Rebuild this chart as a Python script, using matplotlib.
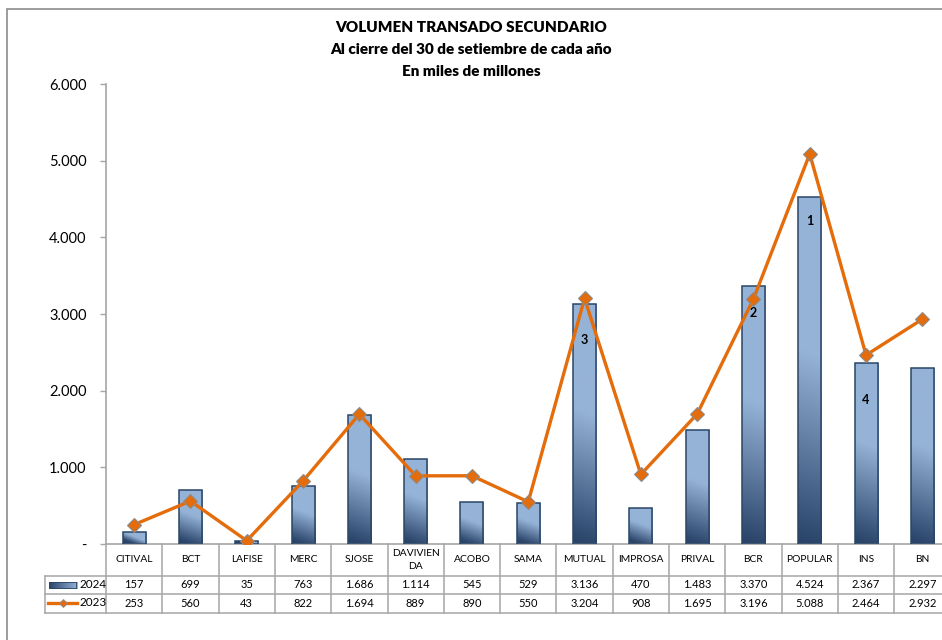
import matplotlib
matplotlib.use("Agg")
import matplotlib.pyplot as plt
import matplotlib.transforms as mtransforms
from matplotlib.patches import Rectangle
from matplotlib.lines import Line2D
from matplotlib.ticker import FuncFormatter
import numpy as np

categorias = ["CITIVAL", "BCT", "LAFISE", "MERC", "SJOSE", "DAVIVIEN\nDA", "ACOBO",
              "SAMA", "MUTUAL", "IMPROSA", "PRIVAL", "BCR", "POPULAR", "INS", "BN"]
vol_2024 = [157, 699, 35, 763, 1686, 1114, 545, 529, 3136, 470, 1483, 3370, 4524, 2367, 2297]
vol_2023 = [253, 560, 43, 822, 1694, 889, 890, 550, 3204, 908, 1695, 3196, 5088, 2464, 2932]
ranking = ["", "", "", "", "", "", "", "", "3", "", "", "2", "1", "4", ""]
rank_offset = [0, 0, 0, 0, 0, 0, 0, 0, 26, 0, 0, 20, 17, 27, 0]

plt.rcParams['font.family'] = ['Lato', 'DejaVu Sans']

W, H = 942, 640
fig = plt.figure(figsize=(W / 100, H / 100), dpi=100)

col_px = 56.3
x0_px, y0_px, top_px = 106, 544, 84
ax = fig.add_axes([x0_px / W, 1 - y0_px / H, 15 * col_px / W, (y0_px - top_px) / H])

dark = np.array([0x2a, 0x44, 0x6a]) / 255
light = np.array([0x95, 0xb3, 0xd7]) / 255
edge = "#2a4566"
grid_gray = "#a6a6a6"

xs = np.arange(len(categorias))
bw = 0.41
bars = ax.bar(xs, vol_2024, width=bw, facecolor="none", edgecolor=edge, linewidth=1.1, zorder=3)

px_per_unit = (y0_px - top_px) / 6000
for b, v in zip(bars, vol_2024):
    h_px = v * px_per_unit
    w_px = bw * col_px
    yy, xx = np.mgrid[0:1:120j, 0:1:12j]
    t = (yy * h_px + 0.35 * (xx - 0.5) * w_px) / (0.55 * h_px)
    t = np.clip(t, 0, 1)
    img = dark[None, None, :] * (1 - t[..., None]) + light[None, None, :] * t[..., None]
    im = ax.imshow(img, extent=[b.get_x(), b.get_x() + bw, 0, v], origin="lower",
                   aspect="auto", zorder=2, interpolation="bilinear")
    im.set_clip_path(b)

ax.plot(xs, vol_2023, color="#e46c0a", linewidth=2.4, marker="D", markersize=7,
        markerfacecolor="#e46c0a", markeredgecolor="#8c8c8c", markeredgewidth=0.8, zorder=4)

for x, v, r, off in zip(xs, vol_2024, ranking, rank_offset):
    if r:
        ax.annotate(r, (x, v), xytext=(0, -off), textcoords="offset points",
                    ha="center", va="center", fontsize=9, fontweight="bold", zorder=5)

ax.set_xlim(-0.5, len(categorias) - 0.5)
ax.set_ylim(0, 6000)
ax.set_yticks(np.arange(0, 6001, 1000))
ax.yaxis.set_major_formatter(FuncFormatter(
    lambda v, p: "-" if v == 0 else f"{v:,.0f}".replace(",", ".")))
ax.tick_params(axis="y", length=4, width=1, color=grid_gray, pad=10, labelsize=10.5)
ax.set_xticks([])
for s in ["top", "right"]:
    ax.spines[s].set_visible(False)
ax.spines["left"].set_color(grid_gray)
ax.spines["bottom"].set_color(grid_gray)
ax.spines["left"].set_linewidth(1.2)
ax.spines["bottom"].set_linewidth(1.2)

# data table below the axis
ah = y0_px - top_px
r1, r2, r3 = -32 / ah, -50 / ah, -69 / ah
blend = mtransforms.blended_transform_factory(ax.transData, ax.transAxes)
leg_left = (45 - x0_px) / (15 * col_px)
kw = dict(color=grid_gray, linewidth=1.1, clip_on=False)
for y in (r1, r2, r3):
    ax.plot([leg_left, 1.02], [y, y], transform=ax.transAxes, **kw)
ax.plot([leg_left, leg_left], [r1, r3], transform=ax.transAxes, **kw)
for i in range(len(categorias) + 1):
    ax.plot([i - 0.5, i - 0.5], [0, r3], transform=blend, **kw)

for x, c, a, b in zip(xs, categorias, vol_2024, vol_2023):
    ax.text(x, r1 / 2, c, transform=blend, ha="center", va="center", fontsize=7.4,
            linespacing=1.5)
    ax.text(x, (r1 + r2) / 2, f"{a:,}".replace(",", "."), transform=blend,
            ha="center", va="center", fontsize=8)
    ax.text(x, (r2 + r3) / 2, f"{b:,}".replace(",", "."), transform=blend,
            ha="center", va="center", fontsize=8)

# legend keys in table
iax = fig.add_axes([49 / W, 1 - 589 / H, 28 / W, 7 / H])
g = np.linspace(0, 1, 60)
gimg = dark[None, :] * (1 - g[:, None]) + light[None, :] * g[:, None]
iax.imshow(gimg[None, :, :], aspect="auto", extent=[0, 1, 0, 1])
iax.add_patch(Rectangle((0, 0), 1, 1, fill=False, edgecolor=edge, linewidth=1.2))
iax.set_axis_off()
fig.text(79 / W, 1 - 585 / H, "2024", ha="left", va="center", fontsize=8.5)
fig.add_artist(Line2D([48 / W, 77 / W], [1 - 603 / H] * 2, color="#e46c0a", linewidth=2.4,
                      transform=fig.transFigure))
fig.add_artist(Line2D([62.5 / W], [1 - 603 / H], color="#e46c0a", marker="D", markersize=4,
                      markeredgecolor="#8c8c8c", markeredgewidth=0.6, transform=fig.transFigure))
fig.text(79 / W, 1 - 603 / H, "2023", ha="left", va="center", fontsize=8.5)

# titles
for yy, s in [(27, "VOLUMEN TRANSADO SECUNDARIO"),
              (50, "Al cierre del 30 de setiembre de cada año"),
              (72, "En miles de millones")]:
    fig.text(0.5, 1 - yy / H, s, ha="center", va="center", fontsize=11, fontweight="heavy")

# outer chart border
fig.add_artist(Rectangle((7 / W, -0.1), 1.1, 1 - 9 / H + 0.1, fill=False,
                         edgecolor="#8c8c8c", linewidth=1.2, transform=fig.transFigure))

fig.savefig("out.png", dpi=100)
